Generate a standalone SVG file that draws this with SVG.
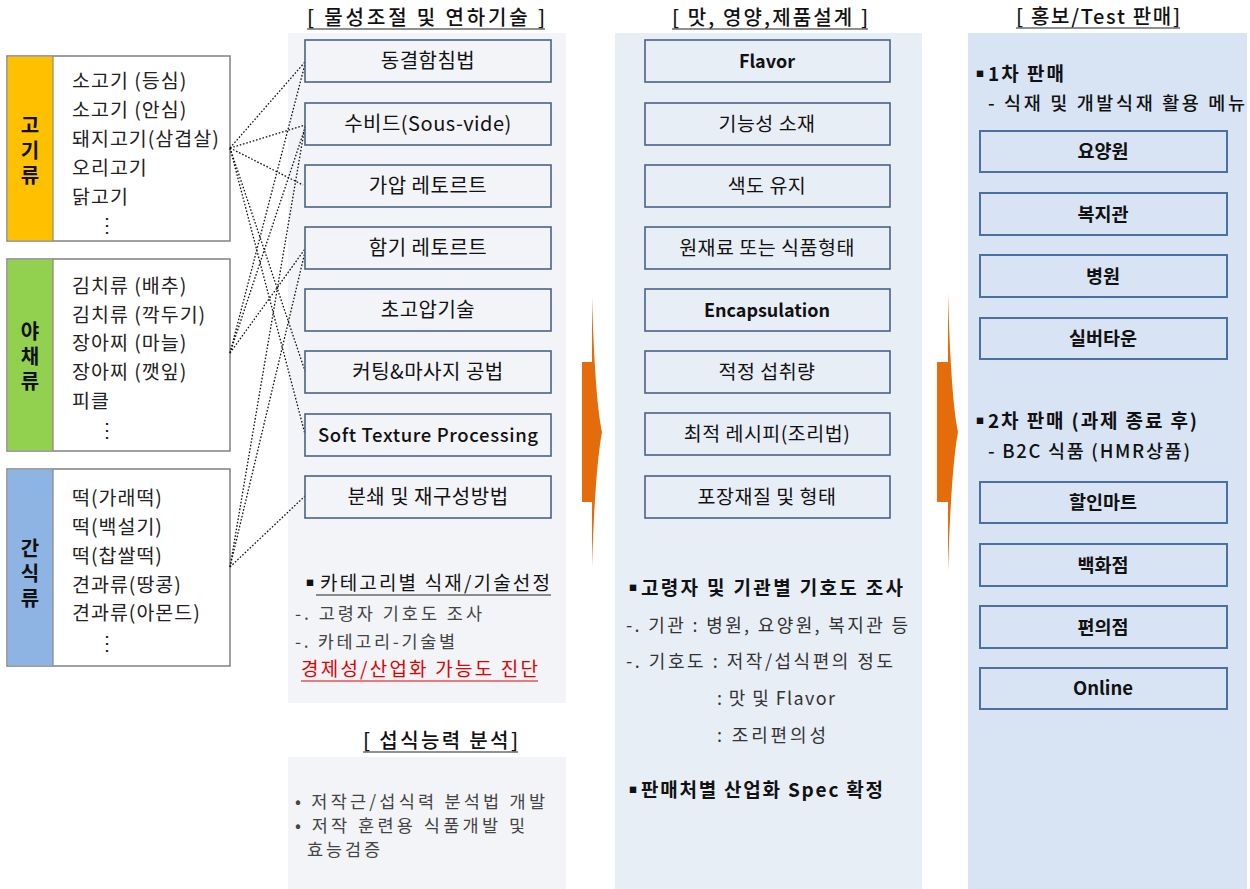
<svg xmlns="http://www.w3.org/2000/svg" width="1250" height="889" viewBox="0 0 1250 889">
<style>
text{font-family:"Noto Sans CJK KR","Noto Sans",sans-serif;fill:#111;}
.hd{font-size:20px;font-weight:500;}
.item{font-size:19.5px;fill:#222;letter-spacing:1px;}
.vl{font-size:20px;font-weight:700;text-anchor:middle;writing-mode:vertical-rl;text-orientation:upright;letter-spacing:5px;}
.bx{fill:none;stroke:#4A6285;stroke-width:1.6;}
.bx4{fill:none;stroke:#4A6FA5;stroke-width:2;}
.bt{font-size:20px;text-anchor:middle;letter-spacing:0.5px;}
.bt3{font-size:19.5px;text-anchor:middle;letter-spacing:0.5px;}
.btb{font-size:18px;font-weight:700;text-anchor:middle;}
.bt4{font-size:18.5px;font-weight:700;text-anchor:middle;}
.note{font-size:17.5px;fill:#444;}
.note3{font-size:18px;fill:#333;}
.nb{font-size:19px;font-weight:700;}
.bul{font-size:8px;}
.catbox{fill:#fff;stroke:#808080;stroke-width:1.5;}
.ul{stroke:#222;stroke-width:1.2;}
.conn line{stroke:#111;stroke-width:1.3;stroke-dasharray:1.6 1.8;}
</style>

<rect width="1250" height="889" fill="#ffffff"/>

<!-- column panels -->
<g id="panels">
<rect x="288" y="33" width="278" height="670" fill="#F2F4F8"/>
<rect x="288" y="757" width="278" height="132" fill="#F2F4F8"/>
<rect x="615" y="33" width="307" height="856" fill="#E8EEF6"/>
<rect x="968" y="33" width="279" height="856" fill="#D8E4F4"/>
</g>

<!-- headers -->
<g id="headers">
<text class="hd" x="307" y="25" textLength="238" lengthAdjust="spacing">[ 물성조절 및 연하기술 ]</text>
<line class="ul" x1="307" y1="29" x2="545" y2="29"/>
<text class="hd" x="672" y="25" textLength="196" lengthAdjust="spacing">[ 맛, 영양,제품설계 ]</text>
<line class="ul" x1="672" y1="29" x2="868" y2="29"/>
<text class="hd" x="1016" y="24" textLength="164" lengthAdjust="spacing">[ 홍보/Test 판매]</text>
<line class="ul" x1="1016" y1="28" x2="1180" y2="28"/>
<text class="hd" x="363" y="748" textLength="155" lengthAdjust="spacing">[ 섭식능력 분석]</text>
<line class="ul" x1="363" y1="752" x2="518" y2="752"/>
</g>

<!-- category boxes -->
<g id="cat-meat">
<rect class="catbox" x="7" y="56" width="223" height="185"/>
<rect x="7.75" y="56.75" width="45.5" height="183.5" fill="#FFC000"/>
<line x1="53" y1="56" x2="53" y2="241" stroke="#808080" stroke-width="1"/>
<text class="vl" x="30" y="153">고기류</text>
<text class="item" x="72" y="88">소고기 (등심)</text>
<text class="item" x="72" y="117">소고기 (안심)</text>
<text class="item" x="72" y="146">돼지고기(삼겹살)</text>
<text class="item" x="72" y="175">오리고기</text>
<text class="item" x="72" y="204">닭고기</text>
<text class="item" x="97" y="232">⋮</text>
</g>

<g id="cat-veg">
<rect class="catbox" x="7" y="259" width="223" height="192"/>
<rect x="7.75" y="259.75" width="45.5" height="190.5" fill="#92D050"/>
<line x1="53" y1="259" x2="53" y2="451" stroke="#808080" stroke-width="1"/>
<text class="vl" x="30" y="359">야채류</text>
<text class="item" x="72" y="293">김치류 (배추)</text>
<text class="item" x="72" y="322">김치류 (깍두기)</text>
<text class="item" x="72" y="350">장아찌 (마늘)</text>
<text class="item" x="72" y="379">장아찌 (깻잎)</text>
<text class="item" x="72" y="408">피클</text>
<text class="item" x="97" y="437">⋮</text>
</g>

<g id="cat-snack">
<rect class="catbox" x="7" y="469" width="223" height="197"/>
<rect x="7.75" y="469.75" width="45.5" height="195.5" fill="#8EB4E3"/>
<line x1="53" y1="469" x2="53" y2="666" stroke="#808080" stroke-width="1"/>
<text class="vl" x="30" y="576">간식류</text>
<text class="item" x="72" y="505">떡(가래떡)</text>
<text class="item" x="72" y="534">떡(백설기)</text>
<text class="item" x="72" y="563">떡(찹쌀떡)</text>
<text class="item" x="72" y="592">견과류(땅콩)</text>
<text class="item" x="72" y="620">견과류(아몬드)</text>
<text class="item" x="97" y="650">⋮</text>
</g>

<!-- connectors -->
<g id="connectors" class="conn">
<line x1="230" y1="148" x2="305" y2="62"/>
<line x1="230" y1="148" x2="305" y2="125"/>
<line x1="230" y1="148" x2="303" y2="185"/>
<line x1="230" y1="148" x2="305" y2="371"/>
<line x1="230" y1="148" x2="305" y2="434"/>
<line x1="230" y1="353" x2="305" y2="64"/>
<line x1="230" y1="353" x2="305" y2="128"/>
<line x1="230" y1="353" x2="305" y2="249"/>
<line x1="230" y1="567" x2="305" y2="126"/>
<line x1="230" y1="567" x2="305" y2="252"/>
<line x1="230" y1="567" x2="305" y2="496"/>
</g>

<!-- column 2 tech boxes -->
<g id="t1"><rect class="bx" x="305" y="40" width="246" height="42"/><text class="bt" x="428" y="68">동결함침법</text></g>
<g id="t2"><rect class="bx" x="305" y="103" width="246" height="42"/><text class="bt" x="428" y="131">수비드(Sous-vide)</text></g>
<g id="t3"><rect class="bx" x="305" y="165" width="246" height="42"/><text class="bt" x="428" y="193">가압 레토르트</text></g>
<g id="t4"><rect class="bx" x="305" y="227" width="246" height="42"/><text class="bt" x="428" y="255">함기 레토르트</text></g>
<g id="t5"><rect class="bx" x="305" y="289" width="246" height="42"/><text class="bt" x="428" y="317">초고압기술</text></g>
<g id="t6"><rect class="bx" x="305" y="351" width="246" height="42"/><text class="bt" x="428" y="379">커팅&amp;마사지 공법</text></g>
<g id="t7"><rect class="bx" x="305" y="414" width="246" height="42"/><text x="318" y="441.5" style="font-size:18.5px;font-weight:500" textLength="220" lengthAdjust="spacing">Soft Texture Processing</text></g>
<g id="t8"><rect class="bx" x="305" y="476" width="246" height="42"/><text class="bt" x="428" y="504">분쇄 및 재구성방법</text></g>

<g id="note2">
<text class="bul" x="306" y="586">■</text>
<text x="320" y="590" style="font-size:19px;fill:#111" textLength="230" lengthAdjust="spacing">카테고리별 식재/기술선정</text>
<line class="ul" x1="316" y1="595" x2="551" y2="595"/>
<text class="note" x="295" y="620" textLength="187" lengthAdjust="spacing">-. 고령자 기호도 조사</text>
<text class="note" x="295" y="648" textLength="160" lengthAdjust="spacing">-. 카테고리-기술별</text>
<text x="301" y="676" style="font-size:19px;fill:#E00000" textLength="237" lengthAdjust="spacing">경제성/산업화 가능도 진단</text>
<line x1="301" y1="681" x2="538" y2="681" stroke="#E00000" stroke-width="1.2"/>
</g>

<g id="note-swallow">
<text class="note" x="295" y="808" textLength="250" lengthAdjust="spacing">• 저작근/섭식력 분석법 개발</text>
<text class="note" x="295" y="832" textLength="230" lengthAdjust="spacing">• 저작 훈련용 식품개발 및</text>
<text class="note" x="307" y="856" textLength="73" lengthAdjust="spacing">효능검증</text>
</g>

<!-- arrows -->
<g id="arrow1"><path d="M582,362 L592,362 L592,297 Q595,400 602,432 Q595,470 592,567 L592,502 L582,502 Z" fill="#E46C0A"/></g>
<g id="arrow2"><path d="M937,362 L948,362 L948,293 Q951,400 958,432 Q951,470 948,572 L948,502 L937,502 Z" fill="#E46C0A"/></g>

<!-- column 3 boxes -->
<g id="d1"><rect class="bx" x="645" y="40" width="245" height="42"/><text class="btb" x="767" y="67.5">Flavor</text></g>
<g id="d2"><rect class="bx" x="645" y="103" width="245" height="42"/><text class="bt3" x="767" y="131">기능성 소재</text></g>
<g id="d3"><rect class="bx" x="645" y="165" width="245" height="42"/><text class="bt3" x="767" y="193">색도 유지</text></g>
<g id="d4"><rect class="bx" x="645" y="227" width="245" height="42"/><text class="bt3" x="767" y="255">원재료 또는 식품형태</text></g>
<g id="d5"><rect class="bx" x="645" y="289" width="245" height="42"/><text class="btb" x="767" y="316.5">Encapsulation</text></g>
<g id="d6"><rect class="bx" x="645" y="351" width="245" height="42"/><text class="bt3" x="767" y="379">적정 섭취량</text></g>
<g id="d7"><rect class="bx" x="645" y="413" width="245" height="42"/><text class="bt3" x="767" y="441">최적 레시피(조리법)</text></g>
<g id="d8"><rect class="bx" x="645" y="476" width="245" height="42"/><text class="bt3" x="767" y="504">포장재질 및 형태</text></g>

<g id="note3">
<text class="bul" x="629" y="591">■</text>
<text class="nb" x="641" y="595" textLength="262" lengthAdjust="spacing">고령자 및 기관별 기호도 조사</text>
<text class="note3" x="626" y="632" textLength="282" lengthAdjust="spacing">-. 기관 : 병원, 요양원, 복지관 등</text>
<text class="note3" x="626" y="668" textLength="267" lengthAdjust="spacing">-. 기호도 : 저작/섭식편의 정도</text>
<text class="note3" x="717" y="705" textLength="118" lengthAdjust="spacing">: 맛 및 Flavor</text>
<text class="note3" x="717" y="742" textLength="109" lengthAdjust="spacing">: 조리편의성</text>
<text class="bul" x="629" y="793">■</text>
<text class="nb" x="641" y="797" textLength="242" lengthAdjust="spacing">판매처별 산업화 Spec 확정</text>
</g>

<!-- column 4 -->
<g id="sale1">
<text class="bul" x="976" y="77">■</text>
<text class="nb" x="988" y="81" textLength="76" lengthAdjust="spacing">1차 판매</text>
<text x="988" y="110" style="font-size:18.5px;font-weight:500" textLength="257" lengthAdjust="spacing">- 식재 및 개발식재 활용 메뉴</text>
</g>
<g id="s1"><rect class="bx4" x="980" y="131" width="247" height="41"/><text class="bt4" x="1103" y="158">요양원</text></g>
<g id="s2"><rect class="bx4" x="980" y="193" width="247" height="42"/><text class="bt4" x="1103" y="220.5">복지관</text></g>
<g id="s3"><rect class="bx4" x="980" y="255" width="247" height="42"/><text class="bt4" x="1103" y="282.5">병원</text></g>
<g id="s4"><rect class="bx4" x="980" y="318" width="247" height="41"/><text class="bt4" x="1103" y="345">실버타운</text></g>
<g id="sale2">
<text class="bul" x="976" y="424">■</text>
<text class="nb" x="988" y="428" textLength="209" lengthAdjust="spacing">2차 판매 (과제 종료 후)</text>
<text x="988" y="458" style="font-size:18.5px;font-weight:500" textLength="202" lengthAdjust="spacing">- B2C 식품 (HMR상품)</text>
</g>
<g id="s5"><rect class="bx4" x="980" y="482" width="247" height="41"/><text class="bt4" x="1103" y="509">할인마트</text></g>
<g id="s6"><rect class="bx4" x="980" y="544" width="247" height="42"/><text class="bt4" x="1103" y="571.5">백화점</text></g>
<g id="s7"><rect class="bx4" x="980" y="606" width="247" height="42"/><text class="bt4" x="1103" y="633.5">편의점</text></g>
<g id="s8"><rect class="bx4" x="980" y="668" width="247" height="41"/><text class="bt4" x="1103" y="695">Online</text></g>
</svg>
